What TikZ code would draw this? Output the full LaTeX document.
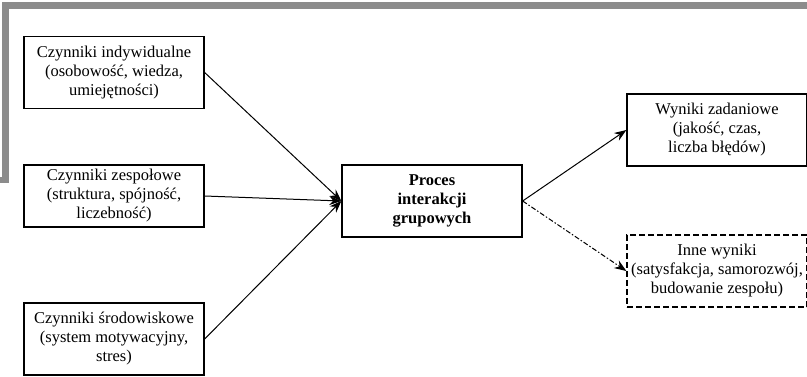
\documentclass[tikz,border=0pt]{standalone}
\usepackage{fontspec}
\setmainfont{Liberation Serif}
\usetikzlibrary{arrows.meta}
\definecolor{framegray}{RGB}{140,140,140}
\tikzstyle{arrow} = [line width=1pt,-{Stealth[length=12pt,width=9pt]}]

\begin{document}
\begin{tikzpicture}[x=1pt,y=-1pt,
	factor/.style={rectangle, draw, line width=1.3pt, minimum width=180pt, minimum height=72pt, align=center, inner sep=0pt, font=\fontsize{16.5}{19}\selectfont},
	otherbox/.style={factor, dash pattern=on 6pt off 3pt}]
			
			\useasboundingbox (0,0) rectangle (807,376);
			
			% FRAME
			
			\fill[framegray] (2,2) rectangle (807,9);
			\fill[framegray] (2,2) rectangle (9,183);
			\fill[framegray] (0,177) rectangle (9,183);
			
			% FACTORS
			
			\node [factor] (indywidualne) at (114,72.5)
			{Czynniki indywidualne\\(osobowość, wiedza,\\umiejętności)};
			
			\node [factor, minimum height=62pt] (zespolowe) at (114,196)
			{Czynniki zespołowe\\(struktura, spójność,\\liczebność)};
			
			\node [factor] (srodowiskowe) at (114,339)
			{Czynniki środowiskowe\\(system motywacyjny,\\stres)};
			
			% PROCESS
			
			\node [factor] (proces) at (432,201)
			{\textbf{Proces}\\\textbf{interakcji}\\\textbf{grupowych}};
			
			% OUTCOMES
			
			\node [factor] (zadaniowe) at (717,130)
			{Wyniki zadaniowe\\(jakość, czas,\\liczba błędów)};
			
			\node [otherbox] (inne) at (717,271)
			{Inne wyniki\\(satysfakcja, samorozwój,\\budowanie zespołu)};
			
			% ARROWS
			
			\draw [arrow] (indywidualne.east) -- (proces.west);
			\draw [arrow] (zespolowe.east) -- (proces.west);
			\draw [arrow] (srodowiskowe.east) -- (proces.west);
			\draw [arrow] (proces.east) -- (zadaniowe.west);
			\draw [arrow, dash pattern=on 5pt off 2pt on 1.5pt off 2pt] (proces.east) -- (inne.west);
			
			\end{tikzpicture}
\end{document}
